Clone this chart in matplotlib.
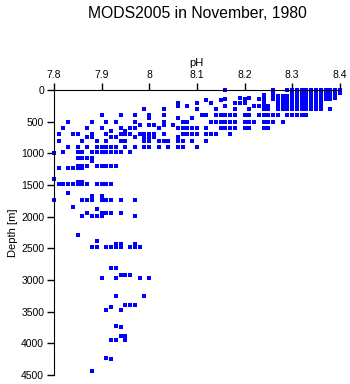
import matplotlib
matplotlib.use('Agg')
import matplotlib.pyplot as plt

plt.rcParams['font.family'] = ['Liberation Sans', 'DejaVu Sans']

# depth levels [m] and the pH values observed at each level
levels = [0, 10, 20, 30, 50, 75, 100, 125, 150, 165, 200, 250, 300,
          400, 450, 500, 550, 600, 650, 700, 750, 800, 900, 975, 1000,
          1075, 1125, 1200, 1240, 1410, 1450, 1480, 1630, 1670, 1735,
          1850, 1885, 1950, 1985, 2290, 2385, 2430, 2475, 2815, 2920,
          2975, 3255, 3395, 3432, 3474, 3721, 3747, 3884, 3947, 4236,
          4252, 4436]

ph_at_level = [
    [8.16, 8.26, 8.29, 8.30, 8.31, 8.32, 8.33, 8.34, 8.35, 8.36, 8.37, 8.38, 8.39, 8.40],
    [8.30, 8.31, 8.32, 8.33, 8.34, 8.35, 8.36, 8.37, 8.38, 8.39, 8.40],
    [8.30, 8.31, 8.32, 8.33, 8.34, 8.35, 8.36, 8.37, 8.38, 8.39, 8.40],
    [8.30, 8.31, 8.32, 8.33, 8.34, 8.35, 8.36, 8.37, 8.38, 8.39, 8.40],
    [8.26, 8.30, 8.31, 8.32, 8.33, 8.34, 8.35, 8.36, 8.37, 8.38, 8.39, 8.40],
    [8.24, 8.26, 8.30, 8.31, 8.32, 8.33, 8.34, 8.35, 8.36, 8.37, 8.38, 8.39],
    [8.24, 8.26, 8.27, 8.28, 8.29, 8.30, 8.31, 8.32, 8.33, 8.34, 8.35, 8.36, 8.37, 8.38, 8.39],
    [8.19, 8.21, 8.24, 8.26, 8.27, 8.28, 8.29, 8.30, 8.31, 8.32, 8.33, 8.34, 8.35, 8.36, 8.37, 8.38, 8.39],
    [8.16, 8.20, 8.23, 8.24, 8.26, 8.27, 8.28, 8.29, 8.30, 8.31, 8.32, 8.33, 8.34, 8.35, 8.36, 8.37, 8.38],
    [8.12, 8.15],
    [8.06, 8.10, 8.13, 8.18, 8.19, 8.20, 8.24, 8.27, 8.28, 8.29, 8.30, 8.31, 8.32, 8.33, 8.34, 8.35, 8.36],
    [8.06, 8.08, 8.16, 8.22, 8.23, 8.24, 8.25, 8.27, 8.28, 8.29, 8.30, 8.31, 8.32, 8.33, 8.34, 8.35, 8.36],
    [7.99, 8.03, 8.10, 8.14, 8.18, 8.21, 8.24, 8.25, 8.27, 8.28, 8.29, 8.30, 8.31, 8.32, 8.33, 8.34, 8.35, 8.36, 8.38],
    [7.90, 7.94, 7.97, 8.00, 8.03, 8.11, 8.12, 8.14, 8.15, 8.16, 8.17, 8.18, 8.20, 8.21, 8.23, 8.24, 8.25, 8.26, 8.27, 8.29, 8.30, 8.31, 8.32, 8.33],
    [8.00, 8.06, 8.09],
    [7.83, 7.88, 7.91, 7.93, 7.97, 8.03, 8.07, 8.08, 8.13, 8.14, 8.15, 8.16, 8.17, 8.18, 8.20, 8.21, 8.22, 8.24, 8.25, 8.26, 8.28],
    [7.98, 8.00, 8.01, 8.03, 8.05],
    [7.82, 7.87, 7.90, 7.94, 7.96, 7.97, 8.02, 8.06, 8.07, 8.08, 8.09, 8.10, 8.12, 8.15, 8.16, 8.17, 8.18, 8.20, 8.21, 8.24, 8.25],
    [7.92, 7.95],
    [7.81, 7.84, 7.85, 7.88, 7.91, 7.94, 7.95, 7.96, 7.98, 7.99, 8.00, 8.01, 8.03, 8.07, 8.08, 8.09, 8.10, 8.12, 8.13, 8.14, 8.17],
    [7.87, 7.88, 7.92, 7.93, 7.97, 7.99, 8.00, 8.01, 8.06],
    [7.81, 7.86, 7.89, 7.91, 7.94, 7.95, 7.99, 8.00, 8.02, 8.03, 8.04, 8.06, 8.07, 8.09, 8.12],
    [7.83, 7.85, 7.87, 7.89, 7.90, 7.91, 7.92, 7.93, 7.95, 7.97, 7.99, 8.00, 8.02, 8.04, 8.06, 8.07, 8.10],
    [7.82, 7.85, 7.86, 7.88, 7.89, 7.90, 7.91, 7.92, 7.93, 7.94, 7.96],
    [7.80],
    [7.85, 7.86, 7.87, 7.88],
    [7.88],
    [7.85, 7.86, 7.87, 7.89, 7.90, 7.91, 7.92, 7.93],
    [7.81, 7.83, 7.84, 7.85, 7.86],
    [7.80],
    [7.85, 7.86],
    [7.81, 7.82, 7.83, 7.84, 7.85, 7.86, 7.87, 7.89, 7.90, 7.91, 7.92],
    [7.83],
    [7.88, 7.90],
    [7.80, 7.86, 7.87, 7.88, 7.90, 7.91, 7.92, 7.94, 7.97],
    [7.84],
    [7.89],
    [7.87, 7.90, 7.91, 7.92, 7.94],
    [7.86, 7.88, 7.89, 7.90, 7.97],
    [7.85],
    [7.89],
    [7.93, 7.94, 7.97],
    [7.88, 7.89, 7.91, 7.92, 7.93, 7.94, 7.96, 7.97, 7.98],
    [7.92, 7.93],
    [7.94, 7.95, 7.96],
    [7.90, 7.93, 7.98, 8.00],
    [7.93, 7.99],
    [7.95, 7.96, 7.97],
    [7.92],
    [7.91, 7.94],
    [7.93],
    [7.94],
    [7.94, 7.95],
    [7.92, 7.93, 7.95],
    [7.91],
    [7.92],
    [7.88],
]

x_ticks = [7.8, 7.9, 8.0, 8.1, 8.2, 8.3, 8.4]
x_ticklabels = ['7.8', '7.9', '8', '8.1', '8.2', '8.3', '8.4']
y_ticks = [0, 500, 1000, 1500, 2000, 2500, 3000, 3500, 4000, 4500]

ph = []
depth = []
for d, vals in zip(levels, ph_at_level):
    for v in vals:
        ph.append(v)
        depth.append(d)

fig = plt.figure(figsize=(3.5, 3.84), dpi=100)
ax = fig.add_axes([0.154, 0.0234, 0.817, 0.7426])

ax.plot(ph, depth, 's', color='#0000ff', markersize=2.2, markeredgewidth=0,
        antialiased=False, clip_on=False)

ax.set_xlim(7.8, 8.4)
ax.set_ylim(4500, 0)
ax.xaxis.tick_top()
ax.xaxis.set_label_position('top')
ax.set_xticks(x_ticks)
ax.set_xticklabels(x_ticklabels)
ax.set_yticks(y_ticks)
ax.tick_params(axis='both', direction='out', length=5, width=1, labelsize=7.5,
               pad=2, colors='black')
ax.spines['right'].set_visible(False)
ax.spines['bottom'].set_visible(False)
ax.set_xlabel('pH', fontsize=8, labelpad=3)
ax.set_ylabel('Depth [m]', fontsize=8, labelpad=2)

fig.text(0.563, 0.965, 'MODS2005 in November, 1980', ha='center', va='center',
         fontsize=11.3)

plt.savefig('out.png', dpi=100)
